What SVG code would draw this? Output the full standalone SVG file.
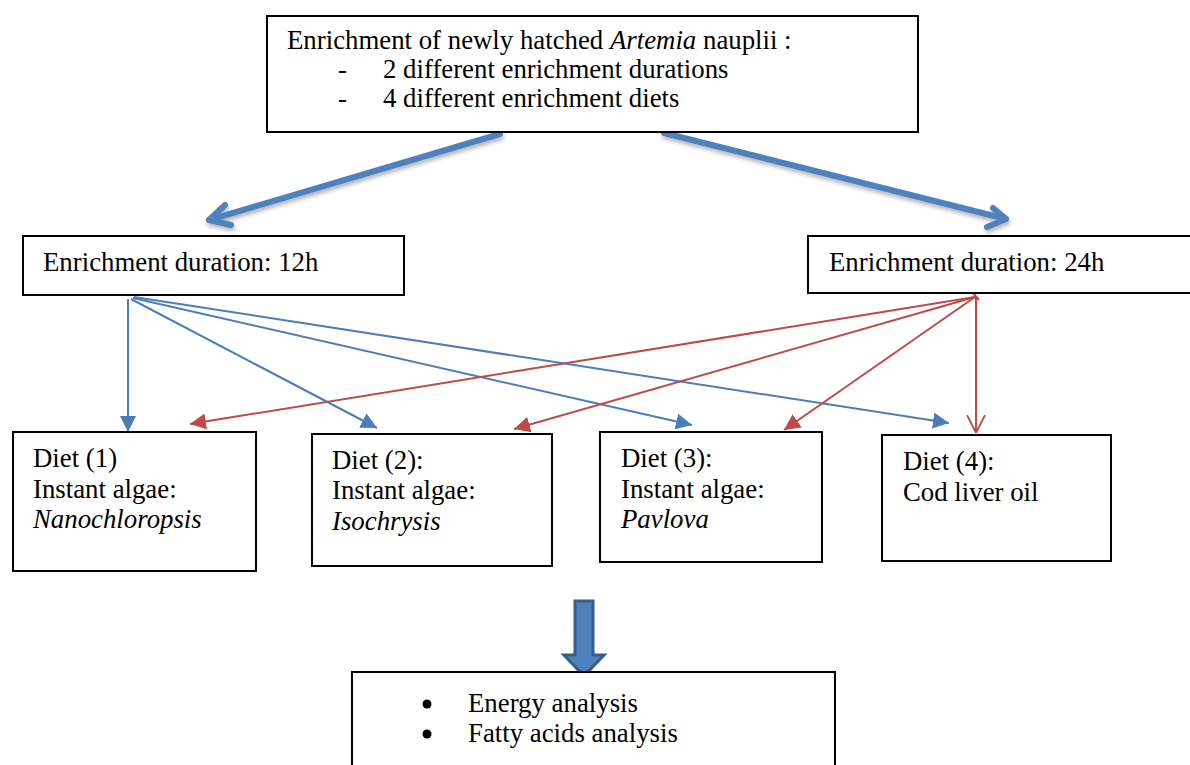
<svg xmlns="http://www.w3.org/2000/svg" width="1190" height="765" viewBox="0 0 1190 765">
<defs>
<style>
.box{fill:#fff;stroke:#000;stroke-width:2}
.t{font-family:'Liberation Serif','Times New Roman','DejaVu Serif',serif;font-size:26.8px;fill:#000}
.i{font-style:italic}
.thinb{stroke:#4a7ebb;stroke-width:2;fill:none}
.thinr{stroke:#be4b48;stroke-width:2;fill:none}
.big{stroke:#4f81bd;stroke-width:6;fill:none;stroke-linecap:round;stroke-linejoin:round}
</style>
<marker id="ab" viewBox="0 0 10 10" refX="10" refY="5" markerWidth="8" markerHeight="8" markerUnits="strokeWidth" orient="auto"><path d="M0,0 L10,5 L0,10 z" fill="#4a7ebb"/></marker>
<marker id="ar" viewBox="0 0 10 10" refX="10" refY="5" markerWidth="8" markerHeight="8" markerUnits="strokeWidth" orient="auto"><path d="M0,0 L10,5 L0,10 z" fill="#be4b48"/></marker>
<marker id="ao" viewBox="0 0 10 10" refX="10" refY="5" markerWidth="9" markerHeight="11" markerUnits="strokeWidth" orient="auto"><path d="M0,0 L10,5 L0,10" fill="none" stroke="#be4b48" stroke-width="1"/></marker>
<filter id="sh" x="-10%" y="-30%" width="120%" height="160%"><feDropShadow dx="1" dy="3" stdDeviation="2" flood-color="#000" flood-opacity="0.3"/></filter>
</defs>

<g id="connectors">
<g filter="url(#sh)">
<polyline class="big" points="500,134 209,220"/>
<polyline class="big" points="225,205 209,220 231,225"/>
<polyline class="big" points="664,133 1006,219"/>
<polyline class="big" points="993,208 1006,219 987,227"/>
</g>
<line class="thinb" x1="128" y1="299" x2="128" y2="432" marker-end="url(#ab)"/>
<line class="thinb" x1="131" y1="299" x2="377" y2="428" marker-end="url(#ab)"/>
<line class="thinb" x1="133" y1="298" x2="692" y2="425" marker-end="url(#ab)"/>
<line class="thinb" x1="134" y1="297" x2="949" y2="423" marker-end="url(#ab)"/>
<line class="thinr" x1="975" y1="297" x2="190" y2="424" marker-end="url(#ar)"/>
<line class="thinr" x1="975" y1="297" x2="514" y2="429" marker-end="url(#ar)"/>
<line class="thinr" x1="975" y1="297" x2="784" y2="430" marker-end="url(#ar)"/>
<line class="thinr" x1="976" y1="297" x2="976" y2="433" marker-end="url(#ao)"/>
<line class="thinr" x1="972" y1="292" x2="979" y2="300"/>
<path d="M575,601 H593 V655 H604 L584,676 L564,655 H575 Z" fill="#4f81bd" stroke="#385d8a" stroke-width="3" stroke-linejoin="miter"/>
</g>

<g font-family="Liberation Serif, Times New Roman, serif">
<g id="top">
<rect class="box" x="267" y="16" width="651" height="116"/>
<text class="t" x="287" y="49">Enrichment of newly hatched <tspan class="i">Artemia</tspan> nauplii :</text>
<text class="t" x="338" y="78">-</text>
<text class="t" x="383" y="78">2 different enrichment durations</text>
<text class="t" x="338" y="107">-</text>
<text class="t" x="383" y="107">4 different enrichment diets</text>
</g>

<g id="d12">
<rect class="box" x="23" y="236" width="381" height="59"/>
<text class="t" x="43" y="271">Enrichment duration: 12h</text>
</g>

<g id="d24">
<rect class="box" x="808" y="236" width="390" height="57"/>
<text class="t" x="829" y="271">Enrichment duration: 24h</text>
</g>

<g id="diet1">
<rect class="box" x="13" y="432" width="243" height="139"/>
<text class="t" x="33" y="467">Diet (1)</text>
<text class="t" x="33" y="498">Instant algae:</text>
<text class="t i" x="33" y="528">Nanochloropsis</text>
</g>

<g id="diet2">
<rect class="box" x="312" y="434" width="240" height="132"/>
<text class="t" x="332" y="469">Diet (2):</text>
<text class="t" x="332" y="499">Instant algae:</text>
<text class="t i" x="332" y="530">Isochrysis</text>
</g>

<g id="diet3">
<rect class="box" x="600" y="432" width="222" height="130"/>
<text class="t" x="621" y="467">Diet (3):</text>
<text class="t" x="621" y="498">Instant algae:</text>
<text class="t i" x="621" y="528">Pavlova</text>
</g>

<g id="diet4">
<rect class="box" x="882" y="435" width="229" height="126"/>
<text class="t" x="903" y="470">Diet (4):</text>
<text class="t" x="903" y="501">Cod liver oil</text>
</g>

<g id="analysis">
<rect class="box" x="352" y="672" width="483" height="110"/>
<circle cx="427" cy="704" r="4.5" fill="#000"/>
<circle cx="427" cy="734" r="4.5" fill="#000"/>
<text class="t" x="468" y="712">Energy analysis</text>
<text class="t" x="468" y="742">Fatty acids analysis</text>
</g>
</g>
</svg>
